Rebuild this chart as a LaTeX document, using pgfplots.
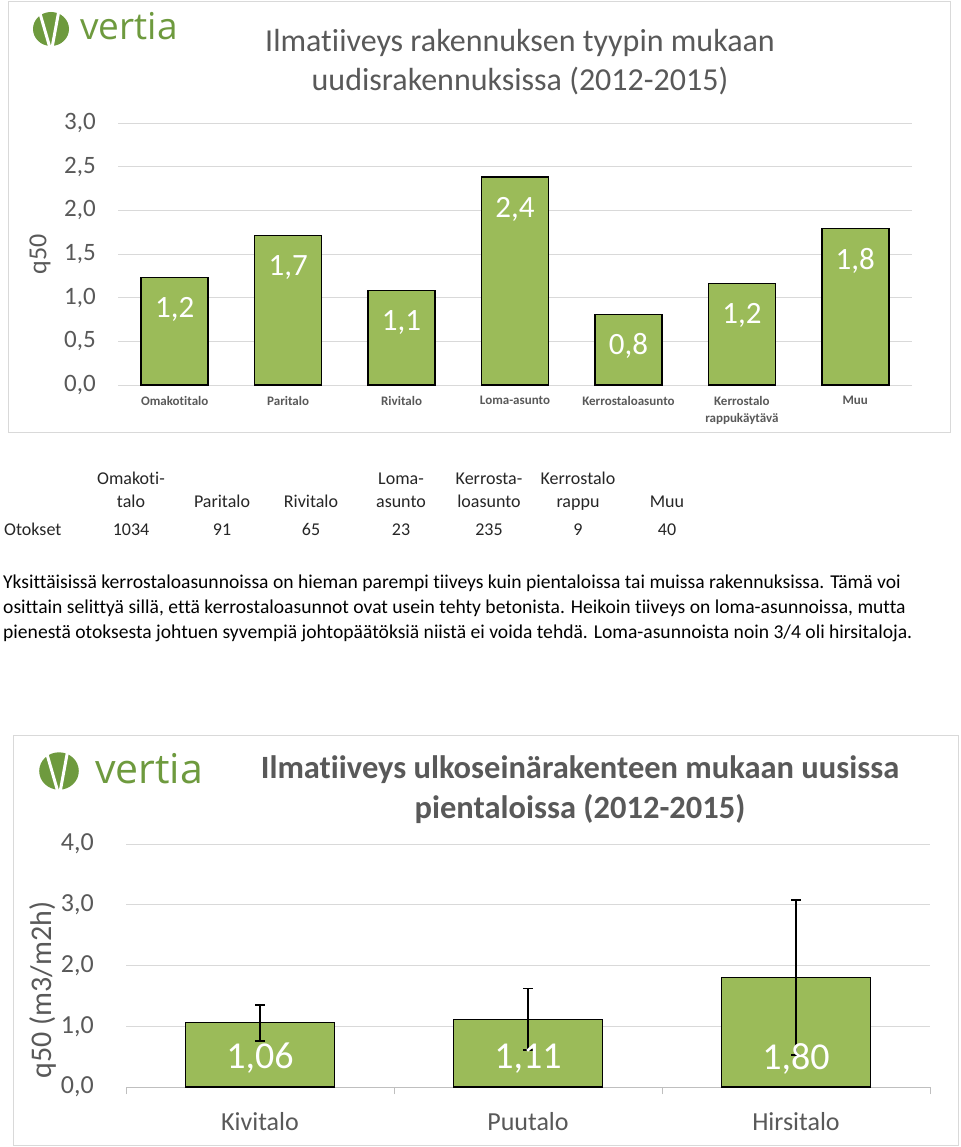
\documentclass[border=0pt]{standalone}
\usepackage{fontspec}
\setmainfont{Carlito}[RawFeature={-liga;-clig;-dlig;-calt;-hlig}]
\newfontfamily\logofont{Open Sans}
\usepackage{pgfplots}
\pgfplotsset{compat=1.18}
\pgfplotsset{/pgf/number format/assume math mode=true}
\definecolor{bargreen}{HTML}{9BBB59}
\definecolor{logogreen}{HTML}{6E9A3E}
\definecolor{txtgray}{HTML}{595959}
\definecolor{gridgray}{HTML}{D9D9D9}
\definecolor{boxgray}{HTML}{D9D9D9}
\definecolor{axisgray}{HTML}{BFBFBF}
\newcommand\fs[1]{\fontsize{#1}{#1}\selectfont}
\begin{document}
\begin{tikzpicture}[x=1pt,y=-1pt]
\useasboundingbox[fill=white] (0,0) rectangle (960,1147);
\draw[boxgray, line width=1pt] (8,2) rectangle (950,432);
\draw[boxgray, line width=1pt] (13,735) rectangle (958,1145);

% logo 1
\begin{scope}[shift={(51,29)}]
 \fill[logogreen] (0,0) ellipse [x radius=18, y radius=17];
 \draw[white, line width=3pt] (-1,19) -- (-12,-19);
 \draw[white, line width=3pt] (1,19) -- (8,-19);
\end{scope}
\node[anchor=base west, inner sep=0pt, text=logogreen, font=\logofont\fs{37}] at (80,40) {vertia};

% logo 2
\begin{scope}[shift={(59,771)}, scale=1.1]
 \fill[logogreen] (0,0) ellipse [x radius=18, y radius=17];
 \draw[white, line width=3pt] (-1,19) -- (-12,-19);
 \draw[white, line width=3pt] (1,19) -- (8,-19);
\end{scope}
\node[anchor=base west, inner sep=0pt, text=logogreen, font=\logofont\fs{41}] at (95,783) {vertia};

% titles
\node[text=txtgray, font=\fontsize{32}{39}\selectfont, align=center] at (520,62) {Ilmatiiveys rakennuksen tyypin mukaan\\uudisrakennuksissa (2012-2015)};
\node[text=txtgray, font=\bfseries\fontsize{32.5}{40}\selectfont, align=center] at (580,790) {Ilmatiiveys ulkoseinärakenteen mukaan uusissa\\pientaloissa (2012-2015)};

% y labels
\node[text=txtgray, font=\fs{26}, rotate=90] at (40,254) {q50};
\node[text=txtgray, font=\fs{30}, rotate=90] at (43,990) {q50 (m3/m2h)};

% top chart
\begin{axis}[
  at={(118pt,-385pt)}, anchor=south west, scale only axis,
  width=794pt, height=262pt,
  xmin=-0.5, xmax=6.5, ymin=0, ymax=3,
  ybar, bar width=67pt, bar shift=0pt,
  axis line style={draw=none}, tick style={draw=none},
  ymajorgrids, grid style={gridgray, line width=1pt},
  ytick={0,0.5,1,1.5,2,2.5,3},
  yticklabel style={/pgf/number format/.cd, fixed, fixed zerofill, precision=1, use comma, /tikz/.cd, font=\fs{25}, text=txtgray, inner sep=0pt, anchor=east, xshift=-22pt},
  xtick={0,1,2,3,4,5,6},
  xticklabels={Omakotitalo, Paritalo, Rivitalo, Loma-asunto, Kerrostaloasunto, {Kerrostalo\\rappukäytävä}, Muu},
  xticklabel style={font=\bfseries\fontsize{13}{17}\selectfont, text=txtgray, align=center, inner sep=0pt, anchor=north, yshift=-7pt},
  nodes near coords={\pgfmathprintnumber[fixed, fixed zerofill, precision=1, use comma]{\pgfplotspointmeta}},
  every node near coord/.append style={text=white, font=\fs{31}, anchor=center, yshift=-32pt},
]
\addplot[fill=bargreen, draw=black, line width=1.5pt] coordinates {(0,1.23) (1,1.71) (2,1.08) (3,2.38) (4,0.81) (5,1.16) (6,1.79)};
\end{axis}

% table
\begin{scope}[every node/.style={font=\fs{18}, text=black!85, anchor=base, inner sep=0pt}]
\node at (131,484) {Omakoti-};
\node at (131,507) {talo};
\node at (222,507) {Paritalo};
\node at (311,507) {Rivitalo};
\node at (401,484) {Loma-};
\node at (401,507) {asunto};
\node at (489,484) {Kerrosta-};
\node at (489,507) {loasunto};
\node at (578,484) {Kerrostalo};
\node at (578,507) {rappu};
\node at (667,507) {Muu};
\node[anchor=base west] at (4,535) {Otokset};
\node at (131,535) {1034};
\node at (222,535) {91};
\node at (311,535) {65};
\node at (401,535) {23};
\node at (489,535) {235};
\node at (578,535) {9};
\node at (667,535) {40};
\end{scope}

% paragraph
\begin{scope}[every node/.style={font=\fs{19.6}, text=black, anchor=base west, inner sep=0pt}]
\node at (3,588) {Yksittäisissä kerrostaloasunnoissa on hieman parempi tiiveys kuin pientaloissa tai muissa rakennuksissa. Tämä voi};
\node at (3,613) {osittain selittyä sillä, että kerrostaloasunnot ovat usein tehty betonista. Heikoin tiiveys on loma-asunnoissa, mutta};
\node at (3,638) {pienestä otoksesta johtuen syvempiä johtopäätöksiä niistä ei voida tehdä. Loma-asunnoista noin 3/4 oli hirsitaloja.};
\end{scope}

% bottom chart
\begin{axis}[
  at={(126pt,-1087pt)}, anchor=south west, scale only axis,
  width=804pt, height=243pt,
  xmin=-0.5, xmax=2.5, ymin=0, ymax=4,
  ybar, bar width=149pt, bar shift=0pt,
  axis x line*=bottom, axis y line*=left,
  x axis line style={draw=axisgray, line width=1pt, -},
  y axis line style={draw=none},
  ymajorgrids, grid style={gridgray, line width=1pt},
  ytick={0,1,2,3,4}, ytick style={draw=none},
  yticklabel style={/pgf/number format/.cd, fixed, fixed zerofill, precision=1, use comma, /tikz/.cd, font=\fs{26}, text=txtgray, inner sep=0pt, anchor=east, xshift=-25pt},
  xtick={-0.5,0.5,1.5,2.5}, x tick label as interval,
  xticklabels={Kivitalo,Puutalo,Hirsitalo},
  xtick style={draw=axisgray, line width=1pt}, tick align=outside, major tick length=7pt,
  xticklabel style={font=\fs{26}, text=txtgray, inner sep=0pt, anchor=north, yshift=-18pt},
]
\addplot[fill=bargreen, draw=black, line width=1.2pt,
  error bars/.cd, y dir=both, y explicit,
  error bar style={black, line width=1.5pt},
  error mark options={black, rotate=90, mark size=5pt, line width=1.5pt}]
  coordinates {(0,1.06) += (0,0.29) -= (0,0.30) (1,1.11) += (0,0.51) -= (0,0.50) (2,1.80) += (0,1.28) -= (0,1.27)};
\addplot[draw=none, fill=none, nodes near coords, point meta=explicit symbolic,
  every node near coord/.style={text=white, font=\fs{38}, anchor=center}]
  coordinates {(0,0.47) [1,06] (1,0.47) [1,11] (2,0.47) [1,80]};
\end{axis}
\end{tikzpicture}
\end{document}
